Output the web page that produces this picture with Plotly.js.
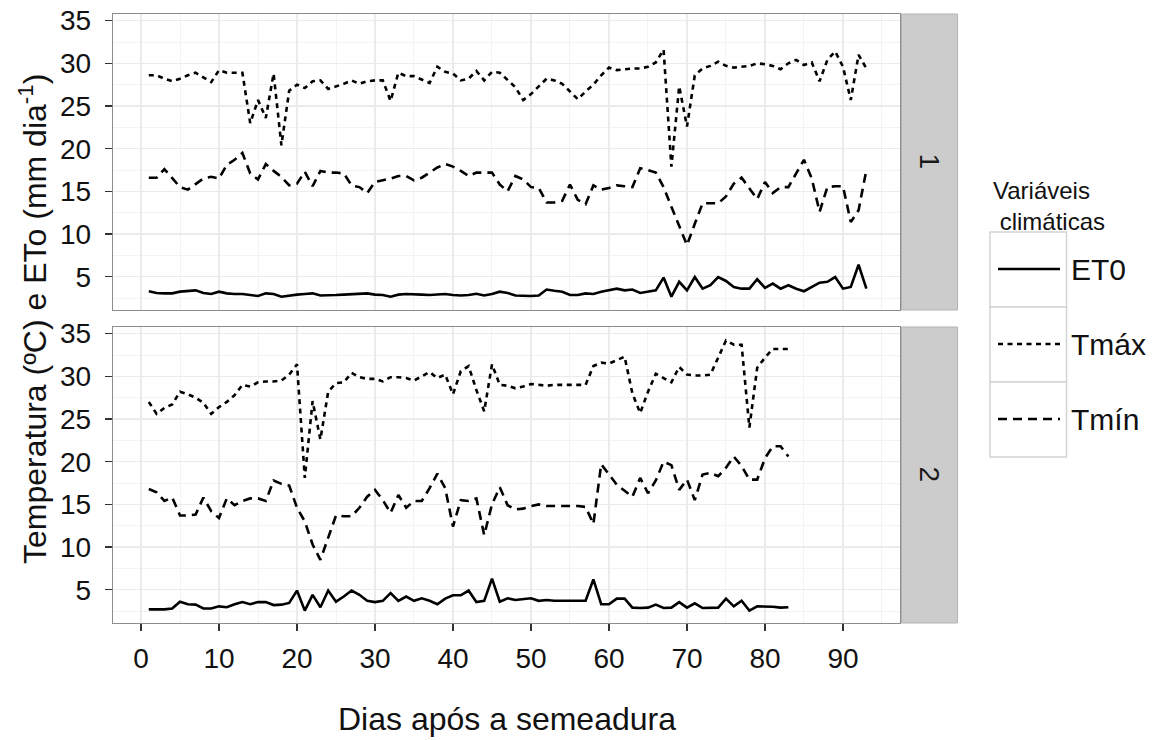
<!DOCTYPE html>
<html>
<head>
<meta charset="utf-8">
<script src="https://cdn.plot.ly/plotly-3.0.1.min.js"></script>
<style>html,body{margin:0;padding:0;background:#fff;}#chart{width:1161px;height:740px;}</style>
</head>
<body>
<div id="chart"></div>
<script>
// ---- Data: panel 1 (days 1-93) ----
const days1 = [1,2,3,4,5,6,7,8,9,10,11,12,13,14,15,16,17,18,19,20,21,22,23,24,25,26,27,28,29,30,31,32,33,34,35,36,37,38,39,40,41,42,43,44,45,46,47,48,49,50,51,52,53,54,55,56,57,58,59,60,61,62,63,64,65,66,67,68,69,70,71,72,73,74,75,76,77,78,79,80,81,82,83,84,85,86,87,88,89,90,91,92,93];
const et0_1 = [3.3,3.1,3.05,3.05,3.25,3.35,3.4,3.1,2.97,3.25,3.05,2.97,2.97,2.85,2.74,3.05,2.97,2.66,2.8,2.9,2.97,3.05,2.8,2.8,2.85,2.9,2.97,3.0,3.05,2.9,2.85,2.66,2.9,2.97,2.97,2.9,2.85,2.9,2.97,2.85,2.8,2.85,3.0,2.8,2.97,3.25,3.1,2.8,2.74,2.74,2.8,3.5,3.35,3.24,2.85,2.85,3.05,2.97,3.24,3.4,3.6,3.4,3.5,3.1,3.24,3.4,4.9,2.66,4.4,3.4,4.96,3.6,4.0,4.96,4.5,3.8,3.6,3.6,4.7,3.7,4.2,3.6,4.0,3.6,3.3,3.8,4.3,4.4,4.96,3.6,3.8,6.4,3.6];
const tmax1 = [28.6,28.6,28.2,27.9,28.2,28.6,28.9,28.3,27.8,29.2,28.9,28.9,28.9,23.0,25.7,23.6,28.8,20.4,26.8,27.5,27.1,27.9,28.0,27.0,27.3,27.6,28.0,27.6,27.9,28.0,28.0,25.6,28.9,28.5,28.5,28.1,27.7,29.6,29.0,28.8,28.0,28.2,29.1,28.0,29.0,28.9,28.0,27.2,25.7,26.4,27.3,28.2,28.0,27.6,26.7,25.8,26.7,27.5,28.6,29.5,29.2,29.3,29.4,29.4,29.6,30.1,31.6,17.9,27.3,22.6,28.6,29.4,29.7,30.2,29.7,29.5,29.6,29.7,30.0,29.9,29.7,29.3,30.0,30.4,29.8,30.1,27.9,30.4,31.4,29.6,25.7,31.0,29.4];
const tmin1 = [16.6,16.6,17.6,16.5,15.5,15.2,15.9,16.5,16.7,16.5,18.1,18.7,19.5,17.1,16.4,18.2,17.4,16.7,15.7,15.9,17.3,15.6,17.4,17.2,17.2,17.1,15.7,15.5,14.8,16.1,16.3,16.5,16.8,16.8,16.3,16.6,17.2,17.8,18.2,17.9,17.4,16.8,17.2,17.2,17.2,15.8,15.0,16.8,16.4,15.5,15.4,13.7,13.7,13.9,15.8,14.0,13.5,15.7,15.2,15.4,15.7,15.6,15.5,17.7,17.5,17.2,15.5,13.2,10.9,8.7,11.2,13.6,13.6,13.6,14.4,15.9,16.6,15.4,14.1,16.1,14.8,15.5,15.5,17.1,18.7,16.5,12.6,15.5,15.6,15.6,11.4,12.8,17.5];

// ---- Data: panel 2 (days 1-83) ----
const days2 = [1,2,3,4,5,6,7,8,9,10,11,12,13,14,15,16,17,18,19,20,21,22,23,24,25,26,27,28,29,30,31,32,33,34,35,36,37,38,39,40,41,42,43,44,45,46,47,48,49,50,51,52,53,54,55,56,57,58,59,60,61,62,63,64,65,66,67,68,69,70,71,72,73,74,75,76,77,78,79,80,81,82,83];
const et0_2 = [2.7,2.7,2.7,2.8,3.6,3.3,3.25,2.8,2.8,3.05,2.95,3.3,3.55,3.3,3.55,3.55,3.2,3.25,3.45,4.9,2.55,4.4,2.95,4.9,3.6,4.2,4.9,4.4,3.7,3.55,3.7,4.6,3.7,4.2,3.7,4.0,3.7,3.3,3.95,4.35,4.35,4.9,3.55,3.7,6.3,3.6,4.0,3.8,3.9,4.0,3.7,3.8,3.7,3.7,3.7,3.7,3.7,6.2,3.3,3.3,3.95,3.95,2.9,2.85,2.9,3.25,2.85,2.9,3.55,2.9,3.4,2.85,2.85,2.9,3.95,3.05,3.7,2.55,3.05,3.05,3.0,2.9,2.95];
const tmax2 = [27.0,25.6,26.3,26.7,28.2,27.9,27.5,26.9,25.6,26.4,27.0,27.8,29.0,28.8,29.3,29.4,29.4,29.5,30.2,31.4,18.1,27.1,22.6,28.2,29.2,29.3,30.4,29.9,29.7,29.7,29.4,29.9,29.9,29.8,29.5,30.0,30.5,29.8,30.2,27.9,30.6,31.2,28.4,25.9,31.4,29.0,28.9,28.6,28.8,29.1,29.0,28.9,29.0,29.0,29.0,29.0,29.0,31.2,31.6,31.5,31.9,32.3,28.0,25.7,28.2,30.3,29.8,29.3,31.1,30.2,30.1,30.1,30.2,32.1,34.2,33.7,33.7,24.0,31.0,32.2,33.2,33.2,33.2];
const tmin2 = [16.8,16.4,15.4,15.8,13.7,13.7,13.8,15.8,14.2,13.4,15.7,14.9,15.4,15.7,15.7,15.4,17.8,17.4,17.2,14.6,13.0,10.3,8.5,11.1,13.7,13.6,13.6,14.6,15.9,16.7,15.5,14.0,16.1,14.6,15.4,15.4,16.9,18.6,16.9,12.4,15.5,15.4,15.7,11.4,15.0,17.0,14.9,14.4,14.5,14.8,15.0,14.8,14.8,14.8,14.8,14.8,14.7,12.7,19.7,18.5,17.3,16.6,15.9,18.1,16.3,17.8,20.0,19.6,16.7,17.9,15.5,18.5,18.7,18.3,19.3,20.6,19.5,17.9,17.9,20.4,21.8,21.8,20.6];

const seriesNames = ['ET0', 'Tmáx', 'Tmín'];
const panelLabels = ['1', '2'];
const xTitle = 'Dias após a semeadura';
const yTitle = 'Temperatura (ºC) e ETo (mm dia<sup>-1</sup>)';
const legendTitle = 'Variáveis<br>&nbsp;climáticas';

// ---- Styles ----
const FONT = 'Liberation Sans, Arial, Helvetica, sans-serif';
const dashes = ['solid', '5px,4.5px', '9px,6px'];
const LW = 2.6;

// pixel -> paper helpers (plot area: x 113..900, y 14..623)
const L = 113, R = 900, T = 14, B = 623;
const PX = p => (p - L) / (R - L);
const PY = p => (B - p) / (B - T);

function mk(x, y, i, xa, ya) {
  return {x: x, y: y, type: 'scatter', mode: 'lines', name: seriesNames[i],
    xaxis: xa, yaxis: ya, showlegend: false, hoverinfo: 'skip',
    line: {color: '#000', width: LW, dash: dashes[i]}};
}
const traces = [
  mk(days1, et0_1, 0, 'x2', 'y'), mk(days1, tmax1, 1, 'x2', 'y'), mk(days1, tmin1, 2, 'x2', 'y'),
  mk(days2, et0_2, 0, 'x', 'y2'), mk(days2, tmax2, 1, 'x', 'y2'), mk(days2, tmin2, 2, 'x', 'y2')
];

const gridMajor = '#ebebeb', gridMinor = '#f3f3f3', border = '#8c8c8c';
const common = {showline: true, mirror: true, linecolor: border, linewidth: 1.3,
  showgrid: true, gridcolor: gridMajor, gridwidth: 1.2, zeroline: false,
  tickfont: {family: FONT, size: 28, color: '#111'}};
const xr = [-3.59, 97.31], yr = [1.1, 35.78];

const layout = {
  width: 1161, height: 740,
  margin: {l: L, r: 1161 - R, t: T, b: 740 - B},
  paper_bgcolor: '#fff', plot_bgcolor: '#fff',
  font: {family: FONT, color: '#111'},
  xaxis: Object.assign({}, common, {anchor: 'y2', domain: [0, 1], range: xr,
    tickmode: 'linear', tick0: 0, dtick: 10, ticks: 'outside', ticklen: 7, tickwidth: 1.5, tickcolor: '#333',
    ticklabelstandoff: 3,
    minor: {tick0: 0, dtick: 5, showgrid: true, gridcolor: gridMinor, gridwidth: 1, ticks: ''}}),
  xaxis2: Object.assign({}, common, {anchor: 'y', domain: [0, 1], range: xr, matches: 'x',
    tickmode: 'linear', tick0: 0, dtick: 10, ticks: '', showticklabels: false,
    minor: {tick0: 0, dtick: 5, showgrid: true, gridcolor: gridMinor, gridwidth: 1, ticks: ''}}),
  yaxis: Object.assign({}, common, {anchor: 'x2', domain: [PY(310), 1], range: yr,
    tickmode: 'linear', tick0: 0, dtick: 5, ticks: 'outside', ticklen: 7, tickwidth: 1.5, tickcolor: '#333',
    ticklabelstandoff: 8,
    minor: {tick0: 0, dtick: 2.5, showgrid: true, gridcolor: gridMinor, gridwidth: 1, ticks: ''}}),
  yaxis2: Object.assign({}, common, {anchor: 'x', domain: [0, PY(327)], range: yr,
    tickmode: 'linear', tick0: 0, dtick: 5, ticks: 'outside', ticklen: 7, tickwidth: 1.5, tickcolor: '#333',
    ticklabelstandoff: 8,
    minor: {tick0: 0, dtick: 2.5, showgrid: true, gridcolor: gridMinor, gridwidth: 1, ticks: ''}}),
  shapes: [],
  annotations: []
};

// facet strips
[[14, 310], [327, 623]].forEach((s, k) => {
  layout.shapes.push({type: 'rect', xref: 'paper', yref: 'paper',
    x0: PX(901.5), x1: PX(957.5), y0: PY(s[1]), y1: PY(s[0]),
    fillcolor: '#cccccc', line: {color: '#b3b3b3', width: 1}});
  layout.annotations.push({xref: 'paper', yref: 'paper', x: PX(929.5), y: PY((s[0] + s[1]) / 2),
    text: panelLabels[k], showarrow: false, textangle: 90,
    font: {family: FONT, size: 28, color: '#1a1a1a'}, xanchor: 'center', yanchor: 'middle'});
});

// axis titles
layout.annotations.push({xref: 'paper', yref: 'paper', x: PX(506.5), y: PY(719),
  text: xTitle, showarrow: false, font: {family: FONT, size: 32, color: '#111'},
  xanchor: 'center', yanchor: 'middle'});
layout.annotations.push({xref: 'paper', yref: 'paper', x: PX(33), y: PY(319),
  text: yTitle, showarrow: false, textangle: -90, font: {family: FONT, size: 32, color: '#111'},
  xanchor: 'center', yanchor: 'middle'});

// legend (ggplot-style keys): two-line title as one text
layout.annotations.push({xref: 'paper', yref: 'paper', x: PX(991), y: PY(206),
  text: legendTitle, showarrow: false, align: 'left', font: {family: FONT, size: 24, color: '#111'},
  xanchor: 'left', yanchor: 'middle'});
const keyTops = [232, 307, 382];
keyTops.forEach((t, i) => {
  layout.shapes.push({type: 'rect', xref: 'paper', yref: 'paper',
    x0: PX(990), x1: PX(1066.5), y0: PY(t + 75), y1: PY(t),
    fillcolor: '#fff', line: {color: '#d4d4d4', width: 1.5}});
  const cy = t + 37;
  layout.shapes.push({type: 'line', xref: 'paper', yref: 'paper',
    x0: PX(998), x1: PX(1060), y0: PY(cy), y1: PY(cy),
    line: {color: '#000', width: 2.4, dash: dashes[i]}});
  layout.annotations.push({xref: 'paper', yref: 'paper', x: PX(1069), y: PY(cy),
    text: seriesNames[i], showarrow: false, font: {family: FONT, size: 30, color: '#111'},
    xanchor: 'left', yanchor: 'middle'});
});

Plotly.newPlot('chart', traces, layout, {staticPlot: true, displayModeBar: false});
</script>
</body>
</html>
